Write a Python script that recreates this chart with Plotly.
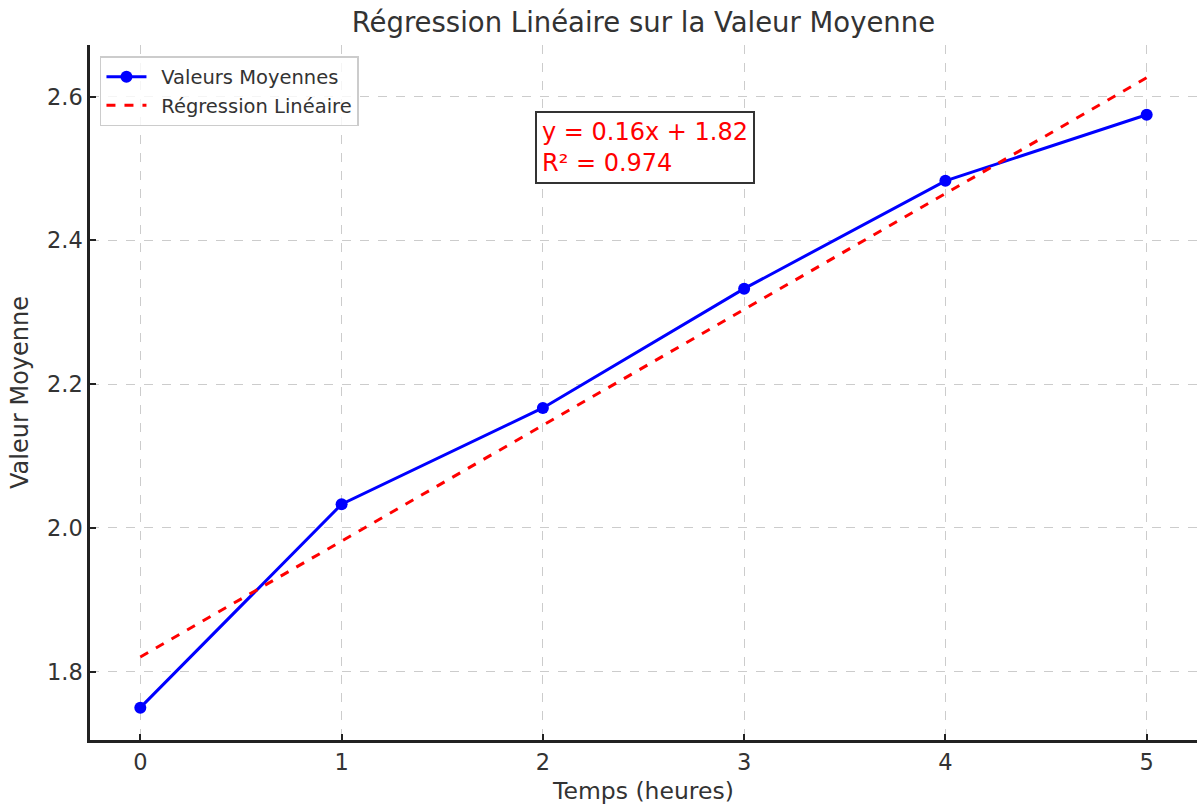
import numpy as np
import plotly.graph_objects as go

temps = [0, 1, 2, 3, 4, 5]
valeurs = [1.75, 2.033, 2.167, 2.333, 2.483, 2.575]
y_ticks = [1.8, 2.0, 2.2, 2.4, 2.6]

slope, intercept = np.polyfit(temps, valeurs, 1)
pred = [slope * t + intercept for t in temps]
r2_label = 0.974

font = "DejaVu Sans, sans-serif"
fig = go.Figure()
fig.add_trace(go.Scatter(x=temps, y=valeurs, mode="lines+markers", name="\u2002Valeurs Moyennes",
                         line=dict(color="#0000ff", width=3), marker=dict(size=12, color="#0000ff")))
fig.add_trace(go.Scatter(x=temps, y=pred, mode="lines", name="\u2002Régression Linéaire",
                         line=dict(color="#ff0000", width=3, dash="dash")))

fig.add_annotation(x=1.963, y=2.58, xref="x", yref="y", xanchor="left", yanchor="top",
                   text=f"y = {slope:.2f}x + {intercept:.2f}<br>R² = {r2_label:.3f}",
                   showarrow=False, align="left", font=dict(family=font, size=24, color="#ff0000"),
                   bordercolor="#333333", borderwidth=2, borderpad=5, bgcolor="white")

fig.update_layout(
    width=1197, height=805, paper_bgcolor="white", plot_bgcolor="white",
    margin=dict(l=90, r=0, t=45, b=65),
    font=dict(family=font, color="#333333"),
    title=dict(text="Régression Linéaire sur la Valeur Moyenne", x=0.5375, xanchor="center",
               y=0.972, yanchor="middle", font=dict(size=27.5, color="#333333")),
    legend=dict(x=0.009, y=0.984, xanchor="left", yanchor="top", bgcolor="rgba(255,255,255,0.8)",
                bordercolor="#cccccc", borderwidth=1.5, font=dict(size=19.5, color="#333333"),
                itemwidth=40, tracegroupgap=6),
    showlegend=True,
)
fig.update_xaxes(range=[-0.25, 5.25], tickvals=temps, ticks="inside", ticklen=6, tickwidth=1.5,
                 tickcolor="#222222", showline=True, linecolor="#222222", linewidth=2.5,
                 showgrid=True, gridcolor="#cccccc", griddash="dash", gridwidth=1, zeroline=False,
                 tickfont=dict(size=22.5, color="#333333"),
                 title=dict(text="Temps (heures)", font=dict(size=23.5, color="#333333"), standoff=10))
fig.update_yaxes(range=[1.705, 2.672], tickvals=y_ticks, tickformat=".1f",
                 ticks="inside", ticklen=6, tickwidth=1.5, tickcolor="#222222",
                 showline=True, linecolor="#222222", linewidth=2.5,
                 showgrid=True, gridcolor="#cccccc", griddash="dash", gridwidth=1, zeroline=False,
                 tickfont=dict(size=22.5, color="#333333"),
                 title=dict(text="Valeur Moyenne", font=dict(size=24, color="#333333"), standoff=12))

fig.write_html("out.html")
